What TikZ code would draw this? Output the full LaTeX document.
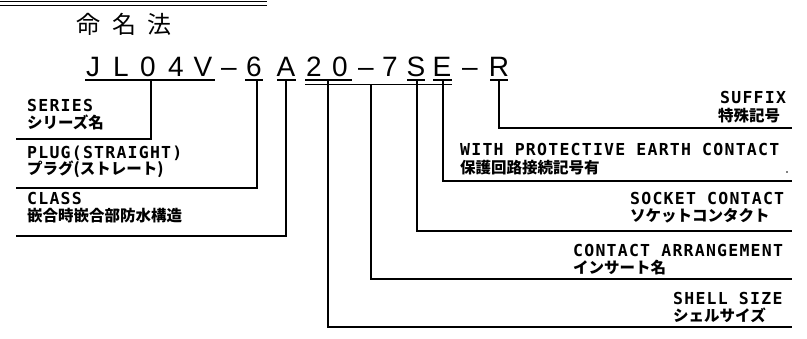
\documentclass[tikz,border=0pt]{standalone}
\usepackage{fontspec}
\setmainfont{DejaVu Sans}
\newfontfamily\lblfont{DejaVu Sans Mono}[LetterSpace=7.5]
\newfontfamily\jpfont{Noto Sans CJK JP}
\newfontfamily\codefont{Liberation Sans}
\newcommand\mytight{\lineskiplimit=-100pt\relax\lineskip=0pt\relax}
\newcommand\en[1]{{\lblfont\bfseries\fontsize{16.5}{16.5}\selectfont #1}}
\newcommand\jp[1]{{\jpfont\bfseries\fontsize{15.5}{16.5}\selectfont #1}}
\begin{document}
\begin{tikzpicture}[x=1pt,y=-1pt,
  lead/.style={line width=1.6pt,line join=miter},
  uline/.style={line width=1.4pt},
  code/.style={anchor=base,inner sep=0pt,font=\codefont\fontsize{28}{28}\selectfont},
  lbl/.style={anchor=north west,inner sep=0pt,align=left,
    font=\fontsize{16}{16.5}\selectfont\mytight}]
\useasboundingbox (0,0) rectangle (807,338);
% top double rule
\draw[line width=0.9pt] (0,1.5) -- (267,1.5);
\draw[line width=1.6pt] (0,5.6) -- (267,5.6);
% title
\node[anchor=center,inner sep=0pt,font=\jpfont\fontsize{24}{24}\selectfont] (title) at (124,24) {命\hspace{12pt}名\hspace{12pt}法};
% code characters
\foreach \ch/\xx [count=\i] in {J/93,L/121,0/148,4/176,V/203,–/229,6/254,A/286,2/314,0/340,–/366,7/390,S/416,E/442,–/470,R/499}{
  \node[code] (c\i) at (\xx,76.5) {\ch};
}
% underlines
\coordinate (u1a) at (85,80);  \coordinate (u1b) at (215,80);
\coordinate (u2a) at (245,80); \coordinate (u2b) at (263,80);
\coordinate (u3a) at (277,80); \coordinate (u3b) at (296,80);
\coordinate (u4a) at (305,80); \coordinate (u4b) at (352,80);
\coordinate (u5a) at (305,84); \coordinate (u5b) at (452,84);
\coordinate (u6a) at (407,80); \coordinate (u6b) at (425,80);
\coordinate (u7a) at (433,80); \coordinate (u7b) at (452,80);
\coordinate (u8a) at (490,80); \coordinate (u8b) at (508,80);
\foreach \k in {1,2,3,4,6,7,8}{\draw[uline] (u\k a) -- (u\k b);}
\draw[line width=1pt] (u5a) -- (u5b);
% labels (left)
\node[lbl] (series) at (27,99.5) {\en{SERIES}\\\jp{シリーズ名}};
\node[lbl] (plug) at (27,145.5) {\en{PLUG(STRAIGHT)}\\\jp{プラグ(ストレート)}};
\node[lbl] (class) at (27,192.5) {\en{CLASS}\\\jp{嵌合時嵌合部防水構造}};
% labels (right)
\node[lbl] (suffix) at (718,91.5) {\en{\hspace*{2pt}SUFFIX}\\[1pt]\jp{特殊記号}};
\node[lbl] (pe) at (460,143.5) {\en{WITH PROTECTIVE EARTH CONTACT}\\[1pt]\jp{保護回路接続記号有}};
\node[lbl] (sock) at (630,192.5) {\en{SOCKET CONTACT}\\\jp{ソケットコンタクト}};
\node[lbl] (arr) at (573,244.5) {\en{CONTACT ARRANGEMENT}\\\jp{インサート名}};
\node[lbl] (shell) at (673,292.5) {\en{SHELL SIZE}\\\jp{シェルサイズ}};
% leader lines
\coordinate (sL) at (16,139);  \coordinate (pL) at (16,188);  \coordinate (cL) at (16,236);
\coordinate (fR) at (792,128); \coordinate (eR) at (792,181); \coordinate (kR) at (792,231);
\coordinate (aR) at (792,279); \coordinate (hR) at (792,327);
\draw[lead] (151,80) |- (sL);
\draw[lead] (257,80) |- (pL);
\draw[lead] (286,80) |- (cL);
\draw[lead] (328,80) |- (hR);
\draw[lead] (371,84) |- (aR);
\draw[lead] (417,80) |- (kR);
\draw[lead] (443,80) |- (eR);
\draw[lead] (499,80) |- (fR);
% stray mark
\fill (787,172) circle (0.9pt);
\end{tikzpicture}
\end{document}
